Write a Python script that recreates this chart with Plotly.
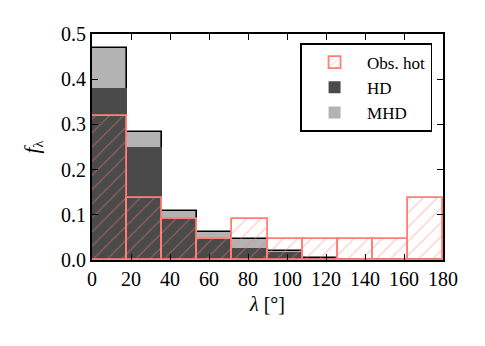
import plotly.graph_objects as go

bin_left = [0, 18, 36, 54, 72, 90, 108, 126, 144, 162]
bin_width = 18
obs_hot = [7/22, 3/22, 2/22, 1/22, 2/22, 1/22, 1/22, 1/22, 1/22, 3/22]
hd = [0.380, 0.251, 0.092, 0.046, 0.026, 0.018, 0.003, 0.001, 0.0, 0.0]
mhd = [0.469, 0.284, 0.108, 0.062, 0.047, 0.020, 0.005, 0.001, 0.0, 0.0]
x_ticks = [0, 20, 40, 60, 80, 100, 120, 140, 160, 180]
y_ticks = [0.0, 0.1, 0.2, 0.3, 0.4, 0.5]

centers = [b + bin_width / 2 for b in bin_left]
font_family = "Liberation Serif"
red = "#ff7f78"

fig = go.Figure()
fig.add_trace(go.Bar(x=centers, y=mhd, width=bin_width, name="MHD", showlegend=False,
                     marker=dict(color="#b3b3b3", line=dict(color="black", width=1.6))))
fig.add_trace(go.Bar(x=centers, y=hd, width=bin_width, name="HD", showlegend=False,
                     marker=dict(color="#4a4a4a", line=dict(width=0))))
fig.add_trace(go.Bar(x=centers, y=obs_hot, width=bin_width, name="Obs. hot", showlegend=False,
                     marker=dict(color="rgba(0,0,0,0)", line=dict(color=red, width=1.8),
                                 pattern=dict(shape="/", fgcolor=red, fgopacity=0.5, size=10, solidity=0.1,
                                              bgcolor="rgba(0,0,0,0)"))))
# legend entries
fig.add_trace(go.Bar(x=[None], y=[None], name="Obs. hot",
                     marker=dict(color="rgba(0,0,0,0)", line=dict(color=red, width=1.8),
                                 pattern=dict(shape="/", fgcolor=red, fgopacity=0.55, size=6, solidity=0.15,
                                              bgcolor="rgba(0,0,0,0)"))))
fig.add_trace(go.Bar(x=[None], y=[None], name="HD", marker=dict(color="#4a4a4a", line=dict(width=0))))
fig.add_trace(go.Bar(x=[None], y=[None], name="MHD", marker=dict(color="#b3b3b3", line=dict(width=0))))

axis_common = dict(showline=True, linecolor="black", linewidth=1.8, mirror="ticks",
                   ticks="inside", ticklen=6, tickwidth=1, tickcolor="black",
                   showgrid=False, zeroline=False,
                   tickfont=dict(family=font_family, size=20, color="black"))

fig.update_layout(
    width=477, height=338,
    margin=dict(l=84, r=42, t=26, b=86),
    barmode="overlay", bargap=0,
    plot_bgcolor="white", paper_bgcolor="white",
    font=dict(family=font_family, color="black"),
    xaxis=dict(range=[0, 180], tickvals=x_ticks, ticktext=[str(v) for v in x_ticks],
               title=dict(text="<i>λ</i> [°]", font=dict(family=font_family, size=20), standoff=8),
               **axis_common),
    yaxis=dict(range=[0, 0.5], tickvals=y_ticks, ticktext=[f"{v:.1f}" for v in y_ticks],
               title=dict(text="<i>f</i><sub>λ</sub>", font=dict(family=font_family, size=21), standoff=16),
               **axis_common),
    legend=dict(x=0.97, y=0.96, xanchor="right", yanchor="top",
                bordercolor="black", borderwidth=1.6, bgcolor="white",
                font=dict(family=font_family, size=17, color="black"),
                itemwidth=55, tracegroupgap=4),
)

fig.write_html("out.html")
